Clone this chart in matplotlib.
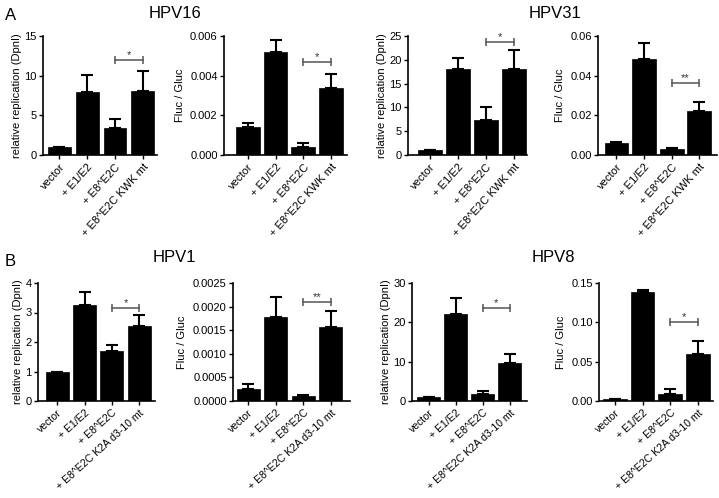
import matplotlib.pyplot as plt
from matplotlib.ticker import FormatStrFormatter, MultipleLocator

plt.rcParams['font.family'] = ['Liberation Sans', 'DejaVu Sans']

labels_top = ['vector', '+ E1/E2', '+ E8^E2C', '+ E8^E2C KWK mt']
labels_bottom = ['vector', '+ E1/E2', '+ E8^E2C', '+ E8^E2C K2A d3-10 mt']

# HPV16
hpv16_rep = [1.0, 8.0, 3.4, 8.1]
hpv16_rep_err = [0.0, 2.1, 1.2, 2.5]
hpv16_luc = [0.0014, 0.0052, 0.0004, 0.0034]
hpv16_luc_err = [0.00022, 0.0006, 0.00022, 0.0007]
# HPV31
hpv31_rep = [1.0, 18.0, 7.3, 18.0]
hpv31_rep_err = [0.0, 2.3, 2.7, 4.0]
hpv31_luc = [0.0062, 0.0484, 0.0029, 0.0224]
hpv31_luc_err = [0.0005, 0.0079, 0.0008, 0.0045]
# HPV1
hpv1_rep = [1.0, 3.25, 1.7, 2.55]
hpv1_rep_err = [0.0, 0.45, 0.2, 0.35]
hpv1_luc = [0.00025, 0.00178, 0.0001, 0.00157]
hpv1_luc_err = [0.00011, 0.00042, 0.00002, 0.00033]
# HPV8
hpv8_rep = [1.0, 22.0, 1.8, 9.7]
hpv8_rep_err = [0.0, 4.2, 0.7, 2.3]
hpv8_luc = [0.002, 0.138, 0.0087, 0.0594]
hpv8_luc_err = [0.0003, 0.0035, 0.0069, 0.0169]

# significance bar height and label for each panel
sig_y = [12.0, 0.0047, 23.8, 0.0365, 3.14, 0.0021, 23.6, 0.100]
sig_txt = ['*', '*', '*', '**', '*', '**', '*', '*']

W, H = 719, 498
fig = plt.figure(figsize=(W / 100, H / 100), dpi=100)

# left, right, top, bottom (pixels), xlim, bar width, ymax, ytick step, fmt
panels = [
    (43, 157, 36, 155, (-0.59, 3.51), 0.82, 15, 5, '%d'),
    (224, 347, 36, 155, (-0.86, 3.58), 0.86, 0.006, 0.002, '%.3f'),
    (408, 527, 36, 155, (-0.78, 3.46), 0.86, 25, 5, '%d'),
    (598, 717, 36, 155, (-0.67, 3.64), 0.86, 0.06, 0.02, '%.2f'),
    (38, 155, 283, 401, (-0.70, 3.57), 0.84, 4, 1, '%d'),
    (233, 350, 283, 401, (-0.55, 3.70), 0.84, 0.0025, 0.0005, '%.4f'),
    (412, 527, 283, 401, (-0.62, 3.64), 0.86, 30, 10, '%d'),
    (599, 713, 283, 401, (-0.58, 3.55), 0.86, 0.15, 0.05, '%.2f'),
]
values = [hpv16_rep, hpv16_luc, hpv31_rep, hpv31_luc, hpv1_rep, hpv1_luc, hpv8_rep, hpv8_luc]
errors = [hpv16_rep_err, hpv16_luc_err, hpv31_rep_err, hpv31_luc_err,
          hpv1_rep_err, hpv1_luc_err, hpv8_rep_err, hpv8_luc_err]

x = [0, 1, 2, 3]
for i, (l, r, t, b, xl, bw, ymax, step, fmt) in enumerate(panels):
    ax = fig.add_axes([l / W, 1 - b / H, (r - l) / W, (b - t) / H])
    ax.bar(x, values[i], width=bw, color='black', edgecolor='black', linewidth=0.5, zorder=2)
    ax.errorbar(x, values[i], yerr=[[0] * 4, errors[i]], fmt='none', ecolor='black',
                elinewidth=1.5, capsize=4, capthick=1.5, zorder=1, clip_on=False)
    ax.plot([2, 3], [sig_y[i], sig_y[i]], color='#555555', lw=1.1, marker='|', ms=6, mew=1.1)
    ax.text(2.5, sig_y[i], sig_txt[i], ha='center', va='bottom', fontsize=8, color='#333333')
    ax.set_xlim(xl)
    ax.set_ylim(0, ymax)
    ax.yaxis.set_major_locator(MultipleLocator(step))
    ax.yaxis.set_major_formatter(FormatStrFormatter(fmt))
    ax.set_xticks(x)
    if i < 4:
        ax.set_xticklabels(labels_top, rotation=48, ha='right', rotation_mode='anchor', fontsize=8)
    else:
        ax.set_xticklabels(labels_bottom, rotation=42, ha='right', rotation_mode='anchor', fontsize=7.6)
    ax.tick_params(axis='y', labelsize=8, length=3, width=1, pad=1.5)
    ax.tick_params(axis='x', length=3, width=1, pad=2)
    for s in ['top', 'right']:
        ax.spines[s].set_visible(False)
    for s in ['left', 'bottom']:
        ax.spines[s].set_linewidth(1.2)
    if i % 2 == 0:
        ax.set_ylabel('relative replication (DpnI)', fontsize=8, labelpad=2)
    else:
        ax.set_ylabel('Fluc / Gluc', fontsize=8, labelpad=4)

fig.text(5 / W, 1 - 15 / H, 'A', fontsize=12, va='center', ha='left')
fig.text(5 / W, 1 - 262 / H, 'B', fontsize=12, va='center', ha='left')
fig.text(175 / W, 1 - 13 / H, 'HPV16', fontsize=12, va='center', ha='center')
fig.text(555 / W, 1 - 13 / H, 'HPV31', fontsize=12, va='center', ha='center')
fig.text(174 / W, 1 - 258 / H, 'HPV1', fontsize=12, va='center', ha='center')
fig.text(553 / W, 1 - 258 / H, 'HPV8', fontsize=12, va='center', ha='center')

fig.savefig('out.png', dpi=100)
